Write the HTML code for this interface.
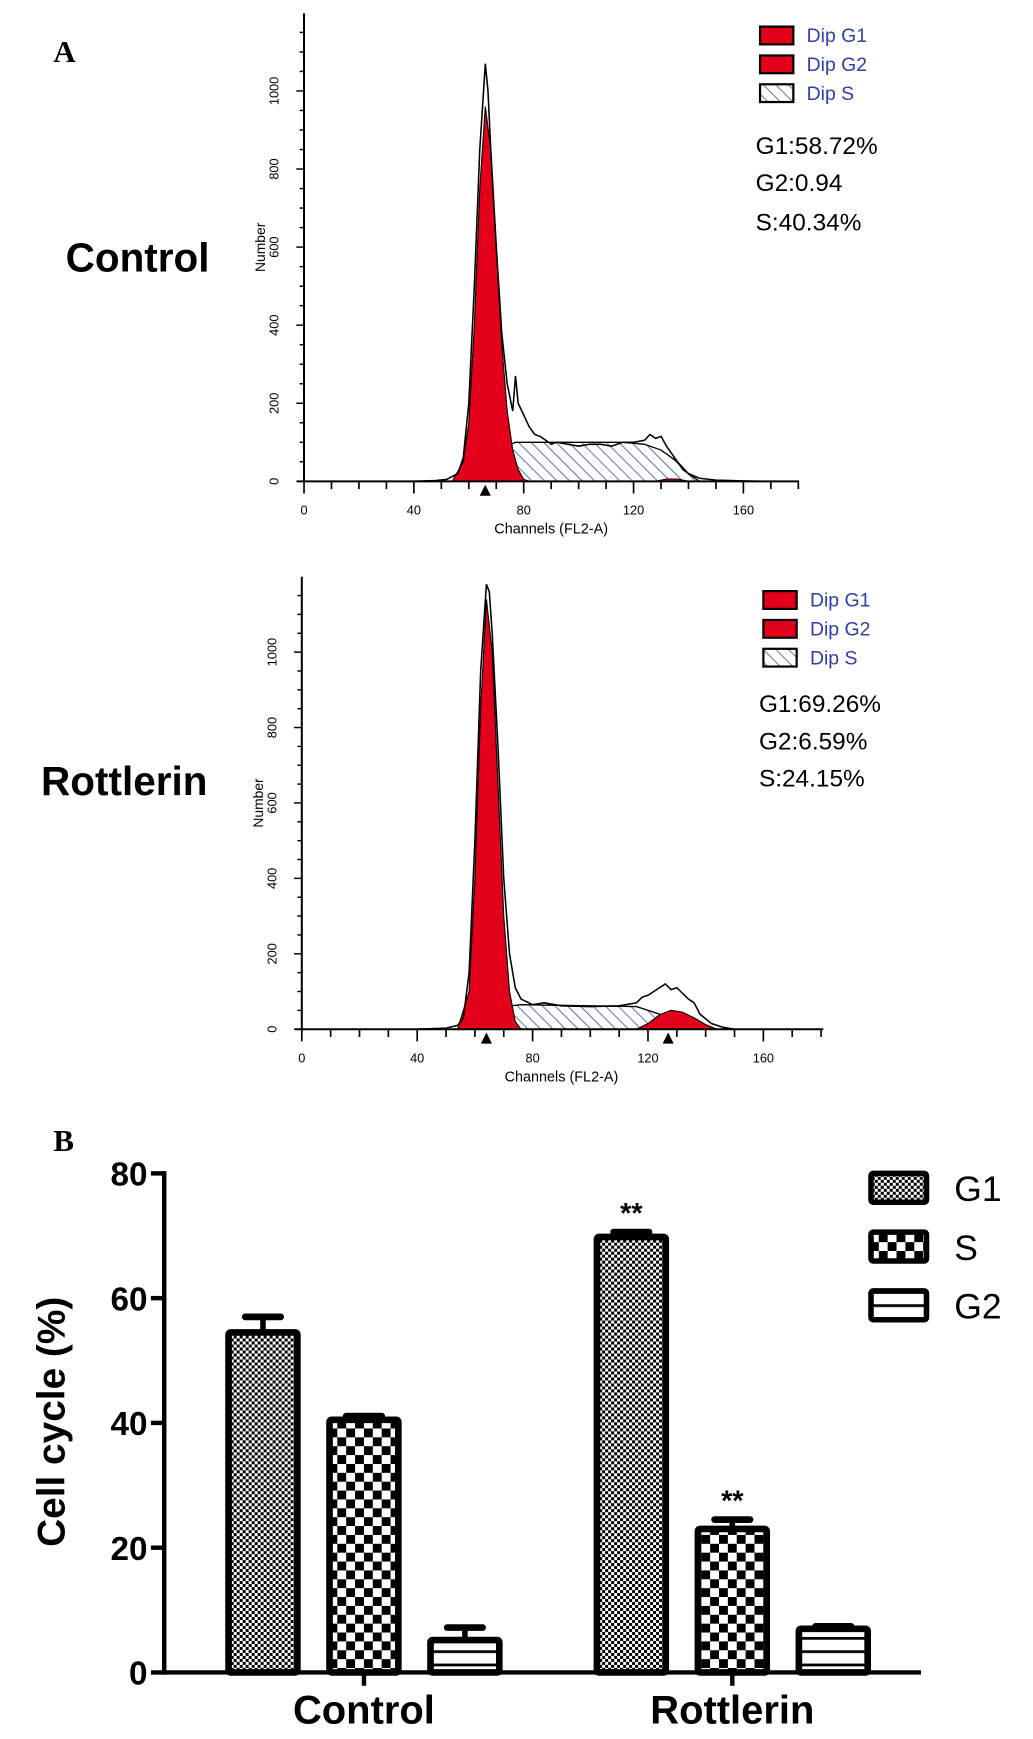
<!DOCTYPE html>
<html><head><meta charset="utf-8"><style>
html,body{margin:0;padding:0;background:#fff;}
svg{display:block;}
text{font-family:"Liberation Sans",sans-serif;}
</style></head><body>
<svg id="fig" width="1033" height="1739" viewBox="0 0 931 1568" preserveAspectRatio="none" xmlns="http://www.w3.org/2000/svg">
<defs>
<pattern id="hatch" patternUnits="userSpaceOnUse" width="8" height="8" patternTransform="rotate(-45)">
<rect width="8" height="8" fill="#fff"/><line x1="0" y1="0" x2="0" y2="8" stroke="#3a48a0" stroke-width="1.4"/></pattern>
<pattern id="fine" patternUnits="userSpaceOnUse" width="5.4" height="5.4">
<rect width="5.4" height="5.4" fill="#fff"/><rect width="2.7" height="2.7" fill="#000"/><rect x="2.7" y="2.7" width="2.7" height="2.7" fill="#000"/></pattern>
<pattern id="coarse" patternUnits="userSpaceOnUse" width="16" height="16">
<rect width="16" height="16" fill="#fff"/><rect width="8" height="8" fill="#000"/><rect x="8" y="8" width="8" height="8" fill="#000"/></pattern>
<pattern id="stripes" patternUnits="userSpaceOnUse" width="10" height="12">
<rect width="10" height="12" fill="#fff"/><rect y="0" width="10" height="2.5" fill="#000"/></pattern>
</defs>
<text x="48" y="56" font-weight="bold" font-size="28" style="font-family:'Liberation Serif',serif">A</text>
<text x="48" y="1038" font-weight="bold" font-size="28" style="font-family:'Liberation Serif',serif">B</text>
<g id="h1"></g>
<g id="h2"></g>
<g id="bars"></g>
</svg>
<script>
// ---- Histogram data (channel, count) ----
const ctrlRawX=[40,48,52,56,58,60,62,64,66,67,68,70,72,74,76,77,78,80,82,84,86,88,90,92,96,100,104,108,112,116,120,124,126,128,130,132,134,136,138,140,144,150,160,166];
const ctrlRawY=[0,2,5,20,60,200,500,850,1070,1000,850,600,380,250,180,270,200,170,140,120,115,105,95,100,95,90,95,95,90,100,100,105,120,110,115,90,70,50,30,20,8,3,1,0];
const ctrlG1X=[54,58,60,62,64,66,68,70,72,74,76,78,80,82];
const ctrlG1Y=[0,50,150,400,750,960,850,600,350,180,80,30,5,0];
const ctrlSX=[62,66,70,74,77,116,124,130,136,140,144];
const ctrlSY=[0,20,60,90,100,100,95,80,50,20,0];
const ctrlG2X=[128,132,136,140];
const ctrlG2Y=[0,6,6,0];
const ctrlMarks=[66];
const ctrlStats=["G1:58.72%","G2:0.94","S:40.34%"];

const rotRawX=[40,50,54,56,58,60,62,64,65,66,68,70,72,74,76,80,84,90,100,110,116,118,120,122,124,126,128,130,132,134,136,138,142,146,150];
const rotRawY=[0,3,10,30,150,500,950,1180,1160,1050,750,400,200,110,80,65,70,62,60,62,70,85,90,100,110,120,105,110,95,80,70,40,15,5,0];
const rotG1X=[54,58,60,62,64,66,68,70,72,74,76];
const rotG1Y=[0,100,400,850,1140,1000,650,300,100,20,0];
const rotSX=[58,64,70,76,116,124,130,134];
const rotSY=[0,30,60,65,60,40,15,0];
const rotG2X=[116,120,124,128,132,136,140,144];
const rotG2Y=[0,15,38,50,45,30,12,0];
const rotMarks=[64,127];
const rotStats=["G1:69.26%","G2:6.59%","S:24.15%"];

const histTicksX=[0,40,80,120,160];
const histTicksY=[0,200,400,600,800,1000];

// ---- Bar chart data ----
const groups=["Control","Rottlerin"];
const seriesNames=["G1","S","G2"];
const g1Vals=[54.5,69.8];
const sVals=[40.5,23.0];
const g2Vals=[5.2,7.0];
const g1Err=[2.5,0.8];
const sErr=[0.6,1.5];
const g2Err=[2.0,0.4];
const sigRot=["**","**"];
const barTicks=[0,20,40,60,80];

const NS="http://www.w3.org/2000/svg";
function mk(p,tag,attrs,txt){const e=document.createElementNS(NS,tag);for(const k in attrs)e.setAttribute(k,attrs[k]);if(txt!==undefined)e.textContent=txt;p.appendChild(e);return e;}

function histogram(gid,cfg){
  const g=document.getElementById(gid);
  const sx=c=>cfg.x0+(c/40)*cfg.px40;
  const sy=v=>cfg.y0-(v/200)*cfg.py200;
  const pts=(X,Y)=>X.map((x,i)=>sx(x).toFixed(1)+","+sy(Y[i]).toFixed(1)).join(" ");
  let e;
  e=mk(g,"polygon",{points:pts(cfg.sX,cfg.sY),fill:"url(#hatch)",stroke:"#000","stroke-width":1.2});
  
  e=mk(g,"polygon",{points:pts(cfg.g1X,cfg.g1Y),fill:"#e3001b",stroke:"#000","stroke-width":1});
  
  e=mk(g,"polygon",{points:pts(cfg.g2X,cfg.g2Y),fill:"#e3001b",stroke:"#000","stroke-width":1});
  
  e=mk(g,"polyline",{points:pts(cfg.rawX,cfg.rawY),fill:"none",stroke:"#000","stroke-width":1.4});
  
  e=mk(g,"line",{x1:cfg.x0,y1:cfg.yTop,x2:cfg.x0,y2:cfg.y0,stroke:"#000","stroke-width":1.8});
  
  e=mk(g,"line",{x1:cfg.x0-6,y1:cfg.y0,x2:cfg.xEnd,y2:cfg.y0,stroke:"#000","stroke-width":1.8});
  
  for(let v=0;v<=1150;v+=50){const y=sy(v);if(y<cfg.yTop)break;
    mk(g,"line",{x1:cfg.x0-(v%200==0?7:4),y1:y,x2:cfg.x0,y2:y,stroke:"#000","stroke-width":1.3});}
  for(let c=0;sx(c)<=cfg.xEnd;c+=10){
    mk(g,"line",{x1:sx(c),y1:cfg.y0,x2:sx(c),y2:cfg.y0+(c%40==0?11:7),stroke:"#000","stroke-width":1.5});}
  histTicksY.forEach(v=>{const y=sy(v);
    e=mk(g,"text",{x:cfg.x0-26,y:y,"font-size":11.5,"text-anchor":"middle",transform:`rotate(-90 ${cfg.x0-26} ${y})`,"dominant-baseline":"middle"},String(v));
    });
  histTicksX.forEach(c=>{e=mk(g,"text",{x:sx(c),y:cfg.y0+30,"font-size":11.5,"text-anchor":"middle"},String(c));
    });
  e=mk(g,"text",{x:sx(cfg.labC),y:cfg.y0+47,"font-size":13,"text-anchor":"middle"},"Channels (FL2-A)");
  
  const ny=(cfg.yTop+cfg.y0)/2;
  e=mk(g,"text",{x:cfg.x0-35,y:ny,"font-size":12.5,"text-anchor":"middle",transform:`rotate(-90 ${cfg.x0-35} ${ny})`},"Number");
  
  cfg.marks.forEach(c=>{const x=sx(c);e=mk(g,"polygon",{points:`${x-5},${cfg.y0+13} ${x+5},${cfg.y0+13} ${x},${cfg.y0+3}`,fill:"#000"});
    });
  const lab=["Dip G1","Dip G2","Dip S"],fills=["#e3001b","#e3001b","url(#hatch)"];
  lab.forEach((t,i)=>{const y=cfg.legY+i*cfg.legDy;
    e=mk(g,"rect",{x:cfg.legX,y:y-8,width:30,height:16,fill:fills[i],stroke:"#000","stroke-width":2});
    
    e=mk(g,"text",{x:cfg.legX+42,y:y+6,"font-size":17.5,fill:"#2f3fa8"},t);
    });
  cfg.stats.forEach((t,i)=>{e=mk(g,"text",{x:cfg.statX,y:cfg.statY[i],"font-size":22},t);
    });
  e=mk(g,"text",{x:cfg.nameX,y:cfg.nameY,"font-size":36.5,"font-weight":"bold","text-anchor":"middle"},cfg.name);
  
}

histogram("h1",{x0:274,y0:434,yTop:12,xEnd:720,px40:99,py200:70.4,rawX:ctrlRawX,rawY:ctrlRawY,g1X:ctrlG1X,g1Y:ctrlG1Y,sX:ctrlSX,sY:ctrlSY,g2X:ctrlG2X,g2Y:ctrlG2Y,marks:ctrlMarks,labC:90,legX:685,legY:32,legDy:26,stats:ctrlStats,statX:681,statY:[139,172,208],name:"Control",nameX:124,nameY:245});
histogram("h2",{x0:272,y0:928,yTop:520,xEnd:742,px40:104,py200:68,rawX:rotRawX,rawY:rotRawY,g1X:rotG1X,g1Y:rotG1Y,sX:rotSX,sY:rotSY,g2X:rotG2X,g2Y:rotG2Y,marks:rotMarks,labC:90,legX:688,legY:541,legDy:26,stats:rotStats,statX:684,statY:[642,676,709],name:"Rottlerin",nameX:112,nameY:717});

(function(){
  const g=document.getElementById("bars");
  const X0=148,Y0=1508,PY=450/80,XE=830;
  const sy=v=>Y0-v*PY;
  const groupStart=[206,538],step=91,bw=62;
  const vals=[g1Vals,sVals,g2Vals],errs=[g1Err,sErr,g2Err],fills=["url(#fine)","url(#coarse)","url(#stripes)"];
  let e;
  groups.forEach((gn,gi)=>{
    seriesNames.forEach((sn,si)=>{
      const x=groupStart[gi]+si*step,v=vals[si][gi],er=errs[si][gi];
      const ye=sy(v+er);
      e=mk(g,"line",{x1:x+bw/2,y1:sy(v),x2:x+bw/2,y2:ye,stroke:"#000","stroke-width":5});
      
      e=mk(g,"line",{x1:x+bw/2-16,y1:ye,x2:x+bw/2+16,y2:ye,stroke:"#000","stroke-width":6,"stroke-linecap":"round"});
      
      e=mk(g,"rect",{x:x,y:sy(v),width:bw,height:Y0-sy(v),fill:fills[si],stroke:"#000","stroke-width":6,rx:2});
      
      if(gi==1&&si<2){e=mk(g,"text",{x:x+bw/2,y:ye-8,"font-size":26,"font-weight":"bold","text-anchor":"middle"},sigRot[si]);
        }
    });
    e=mk(g,"line",{x1:groupStart[gi]+step+bw/2,y1:Y0,x2:groupStart[gi]+step+bw/2,y2:Y0+12,stroke:"#000","stroke-width":4});
    e=mk(g,"text",{x:groupStart[gi]+step+bw/2,y:Y0+46,"font-size":36,"font-weight":"bold","text-anchor":"middle"},gn);
    
  });
  e=mk(g,"line",{x1:X0,y1:sy(80)-2,x2:X0,y2:Y0+2,stroke:"#000","stroke-width":4});
  
  e=mk(g,"line",{x1:X0-2,y1:Y0,x2:XE,y2:Y0,stroke:"#000","stroke-width":4});
  
  barTicks.forEach(t=>{mk(g,"line",{x1:X0-12,y1:sy(t),x2:X0,y2:sy(t),stroke:"#000","stroke-width":4});
    e=mk(g,"text",{x:X0-15,y:sy(t)+11,"font-size":30,"font-weight":"bold","text-anchor":"end"},String(t));
    });
  e=mk(g,"text",{x:58,y:1282,"font-size":35,"font-weight":"bold","text-anchor":"middle",transform:"rotate(-90 58 1282)"},"Cell cycle (%)");
  
  seriesNames.forEach((sn,si)=>{const y=1070+si*53;
    e=mk(g,"rect",{x:785,y:y-12,width:50,height:26,fill:fills[si],stroke:"#000","stroke-width":5,rx:2});
    
    e=mk(g,"text",{x:860,y:y+13,"font-size":32},sn);
    });
})();
</script>
</body></html>
